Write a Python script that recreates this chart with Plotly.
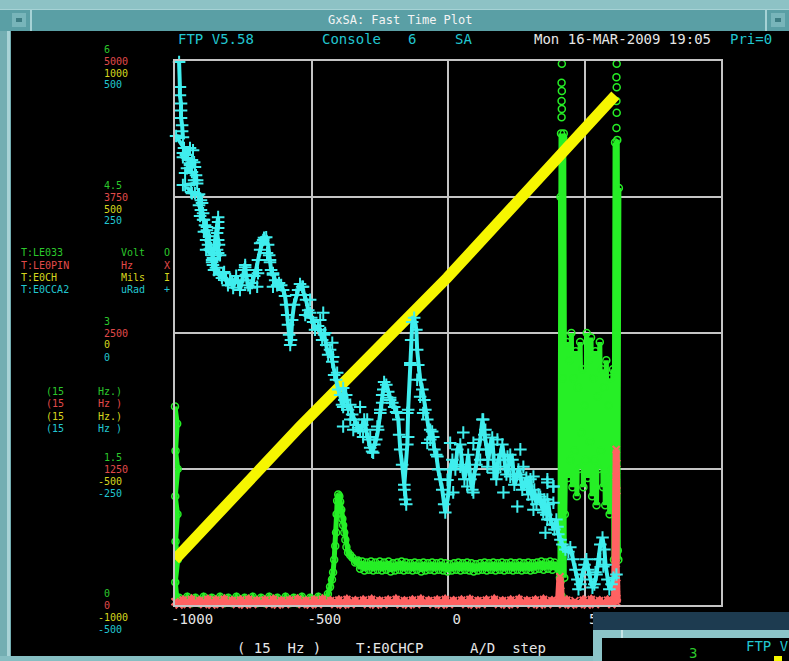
import plotly.graph_objects as go

# ---------------------------------------------------------------- data
x_range = [-1000, 1000]
x_ticks = [-1000, -500, 0, 500, 1000]

volt_range = [0, 6]          # T:LE033
hz_range = [0, 5000]         # T:LE0PIN
mils_range = [-1000, 1000]   # T:E0CH
urad_range = [-500, 500]     # T:E0CCA2

volt_labels = ["6", "4.5", "3", "1.5", "0"]
hz_labels = ["5000", "3750", "2500", "1250", "0"]
mils_labels = ["1000", "500", "0", "-500", "-1000"]
urad_labels = ["500", "250", "0", "-250", "-500"]

# T:LE033 (Volt) samples, in plot order
le033 = [
    (-1000, 2.19), (-992, 2.0), (-998, 1.7), (-990, 1.5), (-999, 1.2), (-991, 1.0),
    (-998, 0.7), (-990, 0.5), (-999, 0.25), (-992, 0.04),
    (-985, 0.08), (-970, 0.02), (-955, 0.09), (-940, 0.02), (-925, 0.08), (-910, 0.02),
    (-895, 0.09), (-880, 0.02), (-865, 0.08), (-850, 0.02), (-835, 0.09), (-820, 0.02),
    (-805, 0.08), (-790, 0.02), (-775, 0.09), (-760, 0.02), (-745, 0.08), (-730, 0.02),
    (-715, 0.09), (-700, 0.02), (-685, 0.08), (-670, 0.02), (-655, 0.09), (-640, 0.02),
    (-625, 0.08), (-610, 0.02), (-595, 0.09), (-580, 0.02), (-565, 0.08), (-550, 0.02),
    (-535, 0.09), (-520, 0.02), (-505, 0.08), (-490, 0.02), (-475, 0.09), (-462, 0.03),
    (-450, 0.06), (-440, 0.12), (-432, 0.2), (-425, 0.28), (-421, 0.36), (-417, 0.5),
    (-413, 0.65), (-410, 0.8), (-408, 1.0), (-406, 1.15), (-402, 1.22), (-398, 1.2),
    (-395, 1.14), (-391, 1.05), (-387, 0.95), (-384, 0.88), (-380, 0.8), (-376, 0.72),
    (-372, 0.64), (-366, 0.58), (-358, 0.55), (-350, 0.52), (-340, 0.47), (-330, 0.49),
    (-322, 0.40), (-314, 0.48), (-306, 0.38), (-298, 0.47), (-290, 0.39), (-282, 0.48),
    (-274, 0.38), (-266, 0.47), (-258, 0.39), (-250, 0.48), (-242, 0.38), (-234, 0.47),
    (-226, 0.39), (-218, 0.48), (-210, 0.37), (-202, 0.46), (-194, 0.38), (-186, 0.47),
    (-178, 0.39), (-170, 0.48), (-162, 0.38), (-154, 0.47), (-146, 0.39), (-138, 0.46),
    (-130, 0.38), (-122, 0.47), (-114, 0.39), (-106, 0.46), (-98, 0.37), (-90, 0.47),
    (-82, 0.38), (-74, 0.46), (-66, 0.39), (-58, 0.47), (-50, 0.38), (-42, 0.46),
    (-34, 0.39), (-26, 0.47), (-18, 0.38), (-10, 0.46), (-2, 0.37), (6, 0.45),
    (14, 0.38), (22, 0.46), (30, 0.39), (38, 0.47), (46, 0.38), (54, 0.46),
    (62, 0.39), (70, 0.47), (78, 0.38), (86, 0.46), (94, 0.37), (102, 0.45),
    (110, 0.38), (118, 0.46), (126, 0.39), (134, 0.47), (142, 0.38), (150, 0.46),
    (158, 0.39), (166, 0.47), (174, 0.38), (182, 0.46), (190, 0.39), (198, 0.47),
    (206, 0.38), (214, 0.46), (222, 0.39), (230, 0.47), (238, 0.38), (246, 0.46),
    (254, 0.39), (262, 0.47), (270, 0.38), (278, 0.46), (286, 0.39), (294, 0.47),
    (302, 0.38), (310, 0.46), (318, 0.39), (326, 0.47), (334, 0.40), (342, 0.48),
    (350, 0.39), (358, 0.47), (366, 0.40), (374, 0.48), (382, 0.39), (390, 0.47), (398, 0.42),
    (410, 0.3), (414, 5.2), (418, 0.5), (422, 5.15), (426, 0.3), (420, 2.5),
    (412, 4.5), (416, 0.1), (424, 5.2), (428, 1.0),
    (436, 2.9), (440, 1.4), (444, 2.7), (448, 1.6), (452, 3.0), (456, 1.3), (460, 2.5),
    (464, 1.7), (468, 2.8), (472, 1.2), (476, 2.4), (480, 1.5), (484, 2.9), (488, 1.9),
    (492, 2.6), (496, 1.3), (500, 2.2), (504, 1.6), (508, 3.0), (512, 1.4), (516, 2.7),
    (520, 1.8), (524, 2.95), (528, 1.2), (532, 2.5), (536, 1.6), (540, 2.8), (544, 1.1),
    (548, 2.3), (552, 1.5), (556, 2.9), (560, 1.7), (564, 2.6), (568, 1.3), (572, 2.4),
    (576, 1.1), (580, 2.7), (584, 1.4), (588, 2.2), (592, 1.0), (596, 2.5), (600, 1.5),
    (604, 2.6),
    (608, 0.5), (612, 5.1), (616, 0.6), (620, 5.13), (624, 0.5), (618, 3.0),
    (612, 1.2), (626, 4.6), (622, 0.6),
]
# isolated T:LE033 samples above the two saturated columns
le033_top = [
    (416, 6.06), (417, 5.97), (416, 5.76), (417, 5.67), (416, 5.56), (417, 5.47), (416, 5.38),
    (617, 6.06), (618, 5.97), (617, 5.82), (618, 5.71), (617, 5.56), (618, 5.43), (617, 5.26),
]

# T:LE0PIN (Hz) samples
le0pin = [
    (-1005, -60), (-1000, 30), (-985, 0), (-970, 45), (-955, 5), (-940, 50), (-925, -5),
    (-910, 40), (-895, 5), (-880, 50), (-865, 0), (-850, 45), (-835, 5), (-820, 50),
    (-805, -5), (-790, 40), (-775, 5), (-760, 45), (-745, 0), (-730, 50), (-715, 5),
    (-700, 40), (-685, -5), (-670, 45), (-655, 5), (-640, 50), (-625, 0), (-610, 40),
    (-595, 5), (-580, 45), (-565, -5), (-550, 50), (-535, 5), (-520, 40), (-505, 0),
    (-490, 45), (-475, 5), (-460, 50), (-445, -5), (-430, 40), (-415, 5), (-400, 45),
    (-385, 0), (-370, 50), (-355, 5), (-340, 40), (-325, -5), (-310, 45), (-295, 5),
    (-280, 50), (-265, 0), (-250, 40), (-235, 5), (-220, 45), (-205, -5), (-190, 50),
    (-175, 5), (-160, 40), (-145, 0), (-130, 45), (-115, 5), (-100, 50), (-85, -5),
    (-70, 40), (-55, 5), (-40, 45), (-25, 0), (-10, 50), (5, 5), (20, 40), (35, -5),
    (50, 45), (65, 5), (80, 50), (95, 0), (110, 40), (125, 5), (140, 45), (155, -5),
    (170, 50), (185, 5), (200, 40), (215, 0), (230, 45), (245, 5), (260, 50), (275, -5),
    (290, 40), (305, 5), (320, 45), (335, 0), (350, 50), (365, 5), (380, 40), (395, -5),
    (405, 45), (410, 260), (413, 180), (416, 30), (415, -110), (420, 5), (435, 45),
    (450, 0), (465, 40), (478, -110), (480, 5), (495, 45), (510, 0), (525, 50), (540, 5),
    (555, 40), (570, -5), (585, 45), (600, 5), (610, 40), (616, 1430), (618, 1300),
    (616, 1180), (618, 1050), (616, 380), (618, 250), (616, 150), (618, 60), (620, 20),
]

# T:E0CH (Mils) samples
e0ch = [(-1000, -833), (-542, -344), (-3, 203), (613, 874)]

# T:E0CCA2 (uRad) samples along the trace
e0cca2 = [
    (-993, 510), (-989, 505), (-985, 498), (-982, 452), (-982, 437), (-978, 422), (-978, 409),
    (-978, 395), (-974, 382), (-974, 371), (-971, 360), (-996, 362), (-967, 340), (-945, 340),
    (-960, 327), (-971, 323), (-952, 318), (-938, 318), (-930, 314), (-945, 309), (-956, 303),
    (-938, 296), (-923, 290), (-930, 281), (-919, 275), (-963, 272), (-941, 259), (-927, 257),
    (-912, 255), (-905, 244), (-912, 235), (-905, 226), (-897, 220), (-908, 215), (-894, 208),
    (-890, 198), (-883, 189), (-894, 186), (-875, 178), (-886, 171), (-879, 162), (-868, 156),
    (-886, 153), (-864, 143), (-861, 138), (-864, 130),
    (-842, 213), (-842, 204), (-842, 193), (-846, 184), (-842, 171), (-839, 162), (-846, 153),
    (-835, 143),
    (-861, 125), (-857, 116), (-850, 120), (-839, 107), (-828, 101), (-820, 112), (-813, 97),
    (-806, 88), (-798, 99), (-791, 92), (-787, 83), (-776, 105), (-769, 94), (-762, 79),
    (-754, 97), (-747, 116), (-743, 125), (-740, 107), (-732, 88), (-725, 83), (-718, 92),
    (-710, 105), (-703, 116), (-696, 134), (-688, 153), (-681, 167), (-674, 175), (-666, 176),
    (-659, 162), (-655, 143), (-652, 130), (-648, 116), (-641, 107), (-633, 97), (-626, 88),
    (-619, 92), (-611, 88), (-604, 79), (-597, 68), (-593, 52), (-589, 33), (-586, 15),
    (-582, -3), (-578, -22), (-575, -13), (-571, 24), (-564, 52), (-556, 70), (-549, 79),
    (-542, 90), (-534, 85), (-527, 70), (-520, 61), (-512, 42), (-523, 33), (-501, 28),
    (-494, 20), (-487, 6), (-476, 13), (-468, 6), (-461, -13), (-454, -3), (-446, -22),
    (-439, -40), (-432, -31), (-424, -53), (-417, -77), (-410, -86), (-402, -104),
    (-395, -114), (-388, -132), (-380, -123), (-384, -101), (-373, -114), (-366, -141),
    (-358, -132), (-351, -150), (-344, -159), (-336, -169), (-329, -174), (-322, -181),
    (-314, -169), (-307, -159), (-300, -178), (-292, -196), (-285, -211), (-278, -218),
    (-270, -205), (-263, -196), (-256, -178), (-248, -141), (-241, -114), (-234, -90),
    (-226, -95), (-219, -108), (-212, -119), (-204, -128), (-197, -136), (-190, -145),
    (-182, -159), (-179, -187), (-175, -214), (-168, -242), (-160, -288), (-157, -306),
    (-153, -315), (-160, -279), (-149, -205), (-146, -141), (-138, -59), (-135, -13),
    (-131, 20), (-124, 28), (-116, 6), (-113, -31), (-109, -59), (-102, -86), (-94, -104),
    (-87, -123), (-83, -141), (-76, -159), (-65, -196), (-58, -181), (-50, -214),
    (-43, -224), (-36, -251), (-28, -269), (-21, -288), (-14, -315), (-10, -330), (1, -297),
    (8, -251), (16, -233), (27, -251), (34, -214), (45, -205), (52, -242), (60, -269),
    (67, -251), (74, -224), (82, -269), (89, -288), (96, -260), (104, -242), (111, -214),
    (118, -196), (126, -159), (133, -187), (140, -214), (148, -233), (155, -205),
    (162, -192), (170, -251), (177, -269), (184, -233), (192, -224), (199, -205),
    (206, -233), (214, -260), (221, -251), (228, -224), (236, -233), (243, -279),
    (250, -269), (258, -251), (265, -260), (272, -288), (280, -279), (287, -266),
    (294, -297), (302, -269), (309, -306), (316, -288), (324, -315), (331, -297),
    (338, -306), (346, -325), (353, -306), (360, -334), (368, -315), (375, -343),
    (382, -352), (390, -361), (397, -343), (404, -370), (412, -380), (419, -389),
    (430, -398), (441, -402), (448, -394), (459, -416), (467, -435), (474, -453),
    (478, -471), (485, -462), (492, -444), (500, -426), (507, -416), (514, -435),
    (522, -453), (529, -468), (536, -462), (544, -444), (551, -416), (558, -389),
    (566, -376), (573, -398), (577, -426), (584, -453), (591, -471), (599, -462),
    (606, -450), (617, -444),
]
# further T:E0CCA2 samples scattered around the trace
e0cca2_scatter = [
    (-971, 331), (-934, 336), (-945, 312), (-927, 305), (-963, 294), (-919, 281),
    (-971, 272), (-938, 257), (-916, 253), (-901, 239), (-897, 208), (-883, 195),
    (-872, 171), (-864, 134), (-824, 110), (-798, 97), (-743, 121), (-736, 97),
    (-688, 165), (-677, 171), (-663, 147), (-652, 134), (-641, 110), (-696, 110),
    (-699, 85), (-641, 85), (-846, 171), (-842, 147),
    (-531, 85), (-505, 61), (-505, 37), (-468, 24), (-457, 37), (-450, 0), (-424, -18),
    (-421, -44), (-406, -73),
    (-384, -136), (-358, -159), (-322, -136), (-296, -159), (-285, -191), (-259, -172),
    (-248, -147), (-384, -172), (-347, -178), (-311, -191), (-274, -220), (-237, -104),
    (-212, -123), (-186, -147), (-241, -128), (-149, -147), (-146, -191),
    (-138, -55), (-113, -86), (-102, -117), (-91, -147), (-65, -178), (-76, -202),
    (-54, -191), (-39, -227),
    (8, -202), (56, -183), (93, -202), (129, -159), (137, -178), (181, -196), (218, -227),
    (265, -214), (276, -246), (313, -264), (364, -275), (386, -282), (19, -293), (71, -282),
    (93, -293), (166, -257), (203, -293), (254, -319), (313, -325), (364, -343), (401, -356),
    (-2, -270), (45, -246), (118, -233), (144, -246), (192, -246), (228, -264), (291, -282),
    (338, -301), (364, -269), (386, -282), (364, -306), (386, -312), (349, -330),
    (375, -343), (357, -367), (558, -416), (569, -429), (540, -440),
]

# ---------------------------------------------------------------- styling
W, H = 789, 661
ML, MR, MT, MB = 175, 68, 61, 56
PW, PH = W - ML - MR, H - MT - MB
MONO = "DejaVu Sans Mono"

GREEN_D, GREEN_T = "#26ef26", "#2cc82c"
RED_D, RED_T = "#ff6262", "#e04a4a"
YEL_D, YEL_T = "#f6f600", "#d6d61e"
CYAN_D, CYAN_T = "#40eeee", "#22c6d0"
WHITE = "#e6e6e6"
GRID = "#c4c4c4"
TEAL = "#6aa9ae"


def fx(p):
    """pixel column -> paper x"""
    return (p - ML) / PW


def fy(p):
    """pixel row -> paper y"""
    return (H - MB - p) / PH


def xs(pairs):
    return [p[0] for p in pairs]


def ys(pairs):
    return [p[1] for p in pairs]


cross = dict(symbol="cross-thin", size=9, color=CYAN_D, line=dict(color=CYAN_D, width=2))
ring = dict(symbol="circle-open", size=7, color=GREEN_D, line=dict(width=1.5))

fig = go.Figure()

fig.add_trace(go.Scatter(
    x=xs(le0pin), y=ys(le0pin), yaxis="y2", mode="lines+markers", cliponaxis=False,
    line=dict(color=RED_D, width=7),
    marker=dict(symbol="x-thin", size=7, color=RED_D, line=dict(color=RED_D, width=2)),
))
fig.add_trace(go.Scatter(
    x=xs(le033), y=ys(le033), yaxis="y", mode="lines+markers", cliponaxis=False,
    line=dict(color=GREEN_D, width=5), marker=ring,
))
fig.add_trace(go.Scatter(
    x=xs(le033_top), y=ys(le033_top), yaxis="y", mode="markers", cliponaxis=False,
    marker=ring,
))
fig.add_trace(go.Scatter(
    x=xs(e0ch), y=ys(e0ch), yaxis="y3", mode="lines",
    line=dict(color=YEL_D, width=11),
))
fig.add_trace(go.Scatter(
    x=xs(e0cca2), y=ys(e0cca2), yaxis="y4", mode="lines+markers", cliponaxis=False,
    line=dict(color=CYAN_D, width=4), marker=cross,
))
fig.add_trace(go.Scatter(
    x=xs(e0cca2_scatter), y=ys(e0cca2_scatter), yaxis="y4", mode="markers",
    cliponaxis=False, marker=cross,
))

# ---------------------------------------------------------------- window chrome
shapes = []


def rect(x0, y0, x1, y1, color, layer="below"):
    shapes.append(dict(type="rect", xref="paper", yref="paper",
                       x0=fx(x0), x1=fx(x1), y0=fy(y1), y1=fy(y0),
                       fillcolor=color, line=dict(width=0), layer=layer))


rect(0, 0, W, 9, "#8dc2c5")
rect(0, 9, W, 31, "#5a9fa5")
rect(0, 9, W, 10, "#a6d2d5")
rect(12, 13, 26, 27, "#78b5ba")
rect(16, 18, 22, 22, "#3d7d83")
rect(30, 9, 32, 31, "#a6d2d5")
rect(765, 9, 767, 31, "#a6d2d5")
rect(771, 13, 785, 27, "#78b5ba")
rect(775, 18, 781, 22, "#3d7d83")
rect(0, 31, 11, H, "#73aeb2")
rect(7, 31, 10, H, "#a9d3d6")
rect(0, 656, W, H, "#86bec2")
rect(11, 31, W, 656, "#000000")

# second window overlapping the lower right corner
rect(593, 612, W, 630, "#1d3b50", "above")
rect(593, 630, W, 638, "#8cc4c8", "above")
rect(621, 630, 623, 638, "#c6e4e6", "above")
rect(593, 638, 602, H, "#8cc4c8", "above")
rect(602, 638, W, H, "#000000", "above")
rect(774, 656, 782, H, YEL_D, "above")

# ---------------------------------------------------------------- texts
ann = []


def text(s, x, y, color, size=14, anchor="left"):
    ann.append(dict(text=s, x=fx(x), y=fy(y), xref="paper", yref="paper",
                    xanchor=anchor, yanchor="middle", showarrow=False,
                    font=dict(family=MONO, size=size, color=color)))


NB = "\u00a0"
SMALL = 10      # stacked side-panel text
CHS = 6.02      # its character advance

text("GxSA: Fast Time Plot", 400, 20, "#f4f4f4", 12, "center")
text("FTP V5.58", 176, 39, CYAN_T)
text("Console", 320, 39, CYAN_T)
text("6", 406, 39, CYAN_T)
text("SA", 453, 39, CYAN_T)
text("Mon 16-MAR-2009 19:05", 532, 39, WHITE)
text("Pri=0", 728, 39, CYAN_T)

# stacked scale values for the four channels at each grid level
for i in range(5):
    gy = MT + i * PH / 4
    for lab, dy, col in ((volt_labels[i], -12, GREEN_T), (hz_labels[i], 0, RED_T),
                         (mils_labels[i], 12, YEL_T), (urad_labels[i], 24, CYAN_T)):
        x0 = 102 - (CHS if lab.startswith("-") else 0)
        text(lab, x0, gy + dy, col, SMALL)

# channel list
channels = [("T:LE033", "Volt", "O", GREEN_T), ("T:LE0PIN", "Hz", "X", RED_T),
            ("T:E0CH", "Mils", "I", YEL_T), ("T:E0CCA2", "uRad", "+", CYAN_T)]
for k, (name, unit, sym, col) in enumerate(channels):
    yk = 253 + 12.2 * k
    text(name, 19, yk, col, SMALL)
    text(unit, 119, yk, col, SMALL)
    text(sym, 162, yk, col, SMALL)

rates = [("Hz.)", GREEN_T), ("Hz" + NB + ")", RED_T), ("Hz.)", YEL_T), ("Hz" + NB + ")", CYAN_T)]
for k, (s, col) in enumerate(rates):
    yk = 391 + 12.6 * k
    text("(15", 44, yk, col, SMALL)
    text(s, 96, yk, col, SMALL)

text("(" + NB + "15" + NB * 2 + "Hz" + NB + ")", 235, 648, WHITE)
text("T:E0CHCP", 354, 648, WHITE)
text("A/D" + NB * 2 + "step", 468, 648, WHITE)

text("FTP V", 744, 646, CYAN_T)
text("3", 687, 653, GREEN_T)

# ---------------------------------------------------------------- axes
axis_common = dict(showticklabels=False, ticks="", zeroline=False, fixedrange=True)
tick_text = [str(v) if v < 0 else NB + str(v) for v in x_ticks]

fig.update_layout(
    width=W, height=H,
    margin=dict(l=ML, r=MR, t=MT, b=MB, pad=0),
    paper_bgcolor=TEAL, plot_bgcolor="#000000",
    showlegend=False,
    xaxis=dict(range=x_range, tickvals=x_ticks, ticktext=tick_text,
               ticks="", ticklabelposition="outside right", ticklabelshift=-5,
               tickfont=dict(family=MONO, size=14, color=WHITE),
               showgrid=True, gridcolor=GRID, gridwidth=2,
               showline=True, mirror=True, linecolor=GRID, linewidth=2,
               zeroline=False, fixedrange=True),
    yaxis=dict(range=volt_range, dtick=(volt_range[1] - volt_range[0]) / 4,
               showgrid=True, gridcolor=GRID, gridwidth=2,
               showline=True, mirror=True, linecolor=GRID, linewidth=2,
               **axis_common),
    yaxis2=dict(range=hz_range, overlaying="y", visible=False, **axis_common),
    yaxis3=dict(range=mils_range, overlaying="y", visible=False, **axis_common),
    yaxis4=dict(range=urad_range, overlaying="y", visible=False, **axis_common),
    shapes=shapes,
    annotations=ann,
)

fig.write_html("out.html")
